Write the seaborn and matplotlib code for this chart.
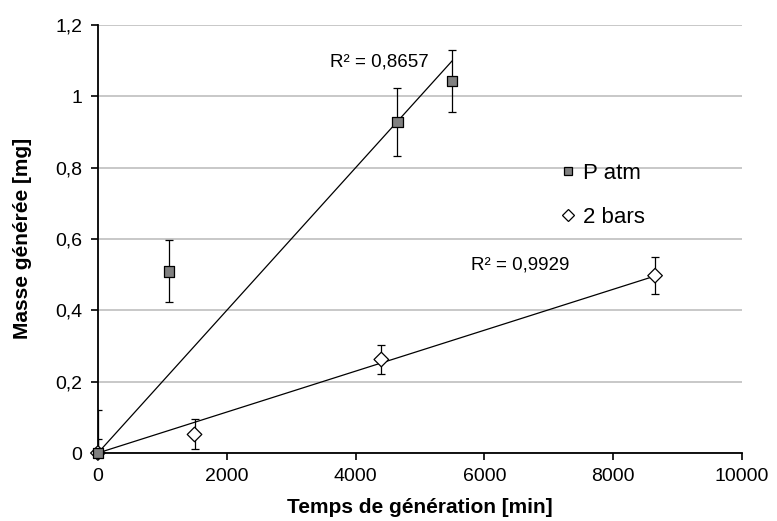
import numpy as np
import pandas as pd
import matplotlib
matplotlib.use('Agg')
import matplotlib.pyplot as plt
from matplotlib.ticker import FuncFormatter
import seaborn as sns

# donnees
temps_atm = [0, 1100, 4650, 5500]
masse_atm = [0, 0.509, 0.928, 1.042]
err_atm = [0.12, 0.087, 0.095, 0.087]

temps_2bars = [0, 1500, 4400, 8650]
masse_2bars = [0, 0.052, 0.262, 0.497]
err_2bars = [0.04, 0.042, 0.04, 0.052]

r2_atm = "R² = 0,8657"
r2_2bars = "R² = 0,9929"

# 2 bars d'abord pour que le carre gris soit dessine par-dessus a l'origine
df = pd.DataFrame({
    'temps': temps_2bars + temps_atm,
    'masse': masse_2bars + masse_atm,
    'serie': ['2 bars'] * len(temps_2bars) + ['P atm'] * len(temps_atm),
})

sns.set_style('white', {'text.color': 'black', 'axes.labelcolor': 'black',
                        'xtick.color': 'black', 'ytick.color': 'black'})
plt.rcParams['font.family'] = ['Liberation Sans', 'DejaVu Sans']

fig = plt.figure(figsize=(7.77, 5.21), dpi=100)
ax = fig.add_axes([0.126, 0.1305, 0.829, 0.822])

# barres d'erreur
ax.errorbar(temps_atm, masse_atm, yerr=err_atm, fmt='none', ecolor='black',
            elinewidth=0.9, capsize=3, capthick=0.9, zorder=3)
ax.errorbar(temps_2bars, masse_2bars, yerr=err_2bars, fmt='none', ecolor='black',
            elinewidth=0.9, capsize=3, capthick=0.9, zorder=3)

# courbes de tendance (passant par l'origine)
x1 = np.array(temps_atm, dtype=float)
y1 = np.array(masse_atm)
a1 = (x1 * y1).sum() / (x1 ** 2).sum()
ax.plot([0, max(temps_atm)], [0, a1 * max(temps_atm)], color='black', lw=0.9, zorder=2)

x2 = np.array(temps_2bars, dtype=float)
y2 = np.array(masse_2bars)
a2 = (x2 * y2).sum() / (x2 ** 2).sum()
ax.plot([0, max(temps_2bars)], [0, a2 * max(temps_2bars)], color='black', lw=0.9, zorder=2)

sns.scatterplot(data=df, x='temps', y='masse', hue='serie', style='serie',
                hue_order=['P atm', '2 bars'], style_order=['P atm', '2 bars'],
                markers={'P atm': 's', '2 bars': 'D'},
                palette={'P atm': '#808080', '2 bars': 'white'},
                edgecolor='black', linewidth=0.9, s=55, ax=ax, zorder=4,
                clip_on=False)

ax.set_xlim(0, 10000)
ax.set_ylim(0, 1.2)
ax.set_xticks([0, 2000, 4000, 6000, 8000, 10000])
ax.set_yticks([0, 0.2, 0.4, 0.6, 0.8, 1.0, 1.2])
ax.yaxis.set_major_formatter(FuncFormatter(lambda v, p: ('%g' % v).replace('.', ',')))
ax.yaxis.grid(True, color='#bfbfbf', lw=1.2)
ax.xaxis.grid(False)
ax.set_axisbelow(True)
for s in ['top', 'right']:
    ax.spines[s].set_visible(False)
for s in ['left', 'bottom']:
    ax.spines[s].set_color('black')
    ax.spines[s].set_linewidth(1.3)
ax.tick_params(axis='both', direction='out', length=5, width=1.2, color='black',
               labelcolor='black', labelsize=14, pad=6, left=True, bottom=True)

ax.set_xlabel('Temps de génération [min]', fontsize=15, fontweight='bold', labelpad=9)
ax.set_ylabel('Masse générée [mg]', fontsize=15, fontweight='bold', labelpad=17)

ax.text(3600, 1.097, r2_atm, fontsize=13.5, va='center', color='black')
ax.text(5800, 0.527, r2_2bars, fontsize=13.5, va='center', color='black')

handles, labels = ax.get_legend_handles_labels()
leg = ax.legend(handles, labels, loc='upper left', bbox_to_anchor=(0.682, 0.725),
                frameon=False, fontsize=16, labelspacing=1.05, handletextpad=0.15,
                handlelength=1.0, markerscale=0.8, labelcolor='black')

fig.savefig('out.png', dpi=100)
